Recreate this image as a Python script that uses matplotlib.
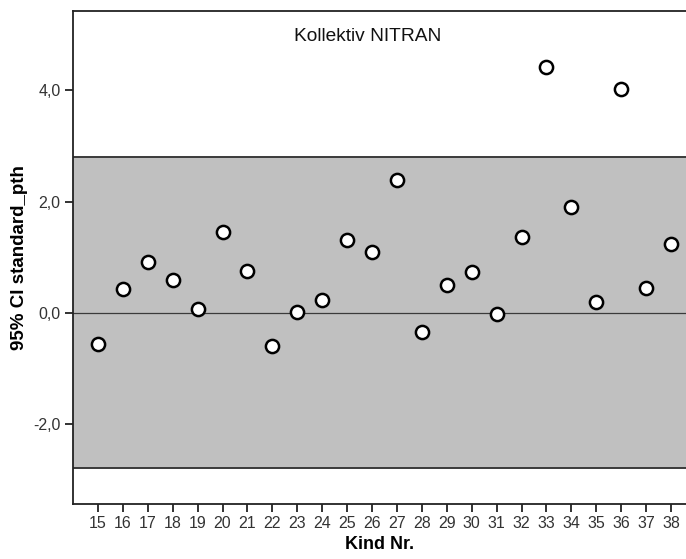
import matplotlib
matplotlib.use("Agg")
import matplotlib.pyplot as plt
from matplotlib.ticker import FuncFormatter

plt.rcParams['font.family'] = ['Liberation Sans', 'DejaVu Sans']

# Data
kind_nr = [15, 16, 17, 18, 19, 20, 21, 22, 23, 24, 25, 26, 27, 28, 29, 30, 31, 32, 33, 34, 35, 36, 37, 38]
standard_pth = [-0.55, 0.43, 0.92, 0.59, 0.07, 1.45, 0.75, -0.60, 0.01, 0.23, 1.31, 1.09,
                2.39, -0.35, 0.51, 0.73, -0.02, 1.37, 4.42, 1.90, 0.19, 4.02, 0.45, 1.24]
ci_lower, ci_upper = -2.79, 2.80
y_ticks = [-2.0, 0.0, 2.0, 4.0]
title = "Kollektiv NITRAN"
x_label = "Kind Nr."
y_label = "95% CI standard_pth"

fig = plt.figure(figsize=(6.86, 5.59), dpi=100)
ax = fig.add_axes([0.1064, 0.0984, 0.8936, 0.8819])

ax.set_xlim(14.0, 38.6)
ax.set_ylim(-3.43, 5.42)

# confidence band
ax.axhspan(ci_lower, ci_upper, facecolor="#c0c0c0", edgecolor="none", zorder=1)
ax.axhline(ci_upper, color="#3a3a3a", lw=1.4, zorder=2)
ax.axhline(ci_lower, color="#3a3a3a", lw=1.4, zorder=2)
ax.axhline(0.0, color="#3a3a3a", lw=0.9, zorder=2)

ax.plot(kind_nr, standard_pth, linestyle="none", marker="o", markersize=9.5,
        markerfacecolor="white", markeredgecolor="black", markeredgewidth=1.8, zorder=3)

ax.text(0.48, 0.949, title, transform=ax.transAxes, ha="center", va="center",
        fontsize=13.8, color="#111111")

ax.set_xticks(kind_nr)
ax.set_yticks(y_ticks)
ax.yaxis.set_major_formatter(FuncFormatter(lambda v, p: f"{v:.1f}".replace(".", ",")))
ax.tick_params(axis="both", direction="out", length=6, width=1.3, color="#222222",
               labelsize=11.5, labelcolor="#333333", pad=3)

ax.spines["right"].set_visible(False)
for side in ("left", "bottom", "top"):
    ax.spines[side].set_linewidth(1.3)
    ax.spines[side].set_color("#222222")

ax.set_xlabel(x_label, fontsize=13, fontweight="bold", labelpad=3)
ax.set_ylabel(y_label, fontsize=13.5, fontweight="bold", labelpad=4)

fig.savefig("out.png", dpi=100)
